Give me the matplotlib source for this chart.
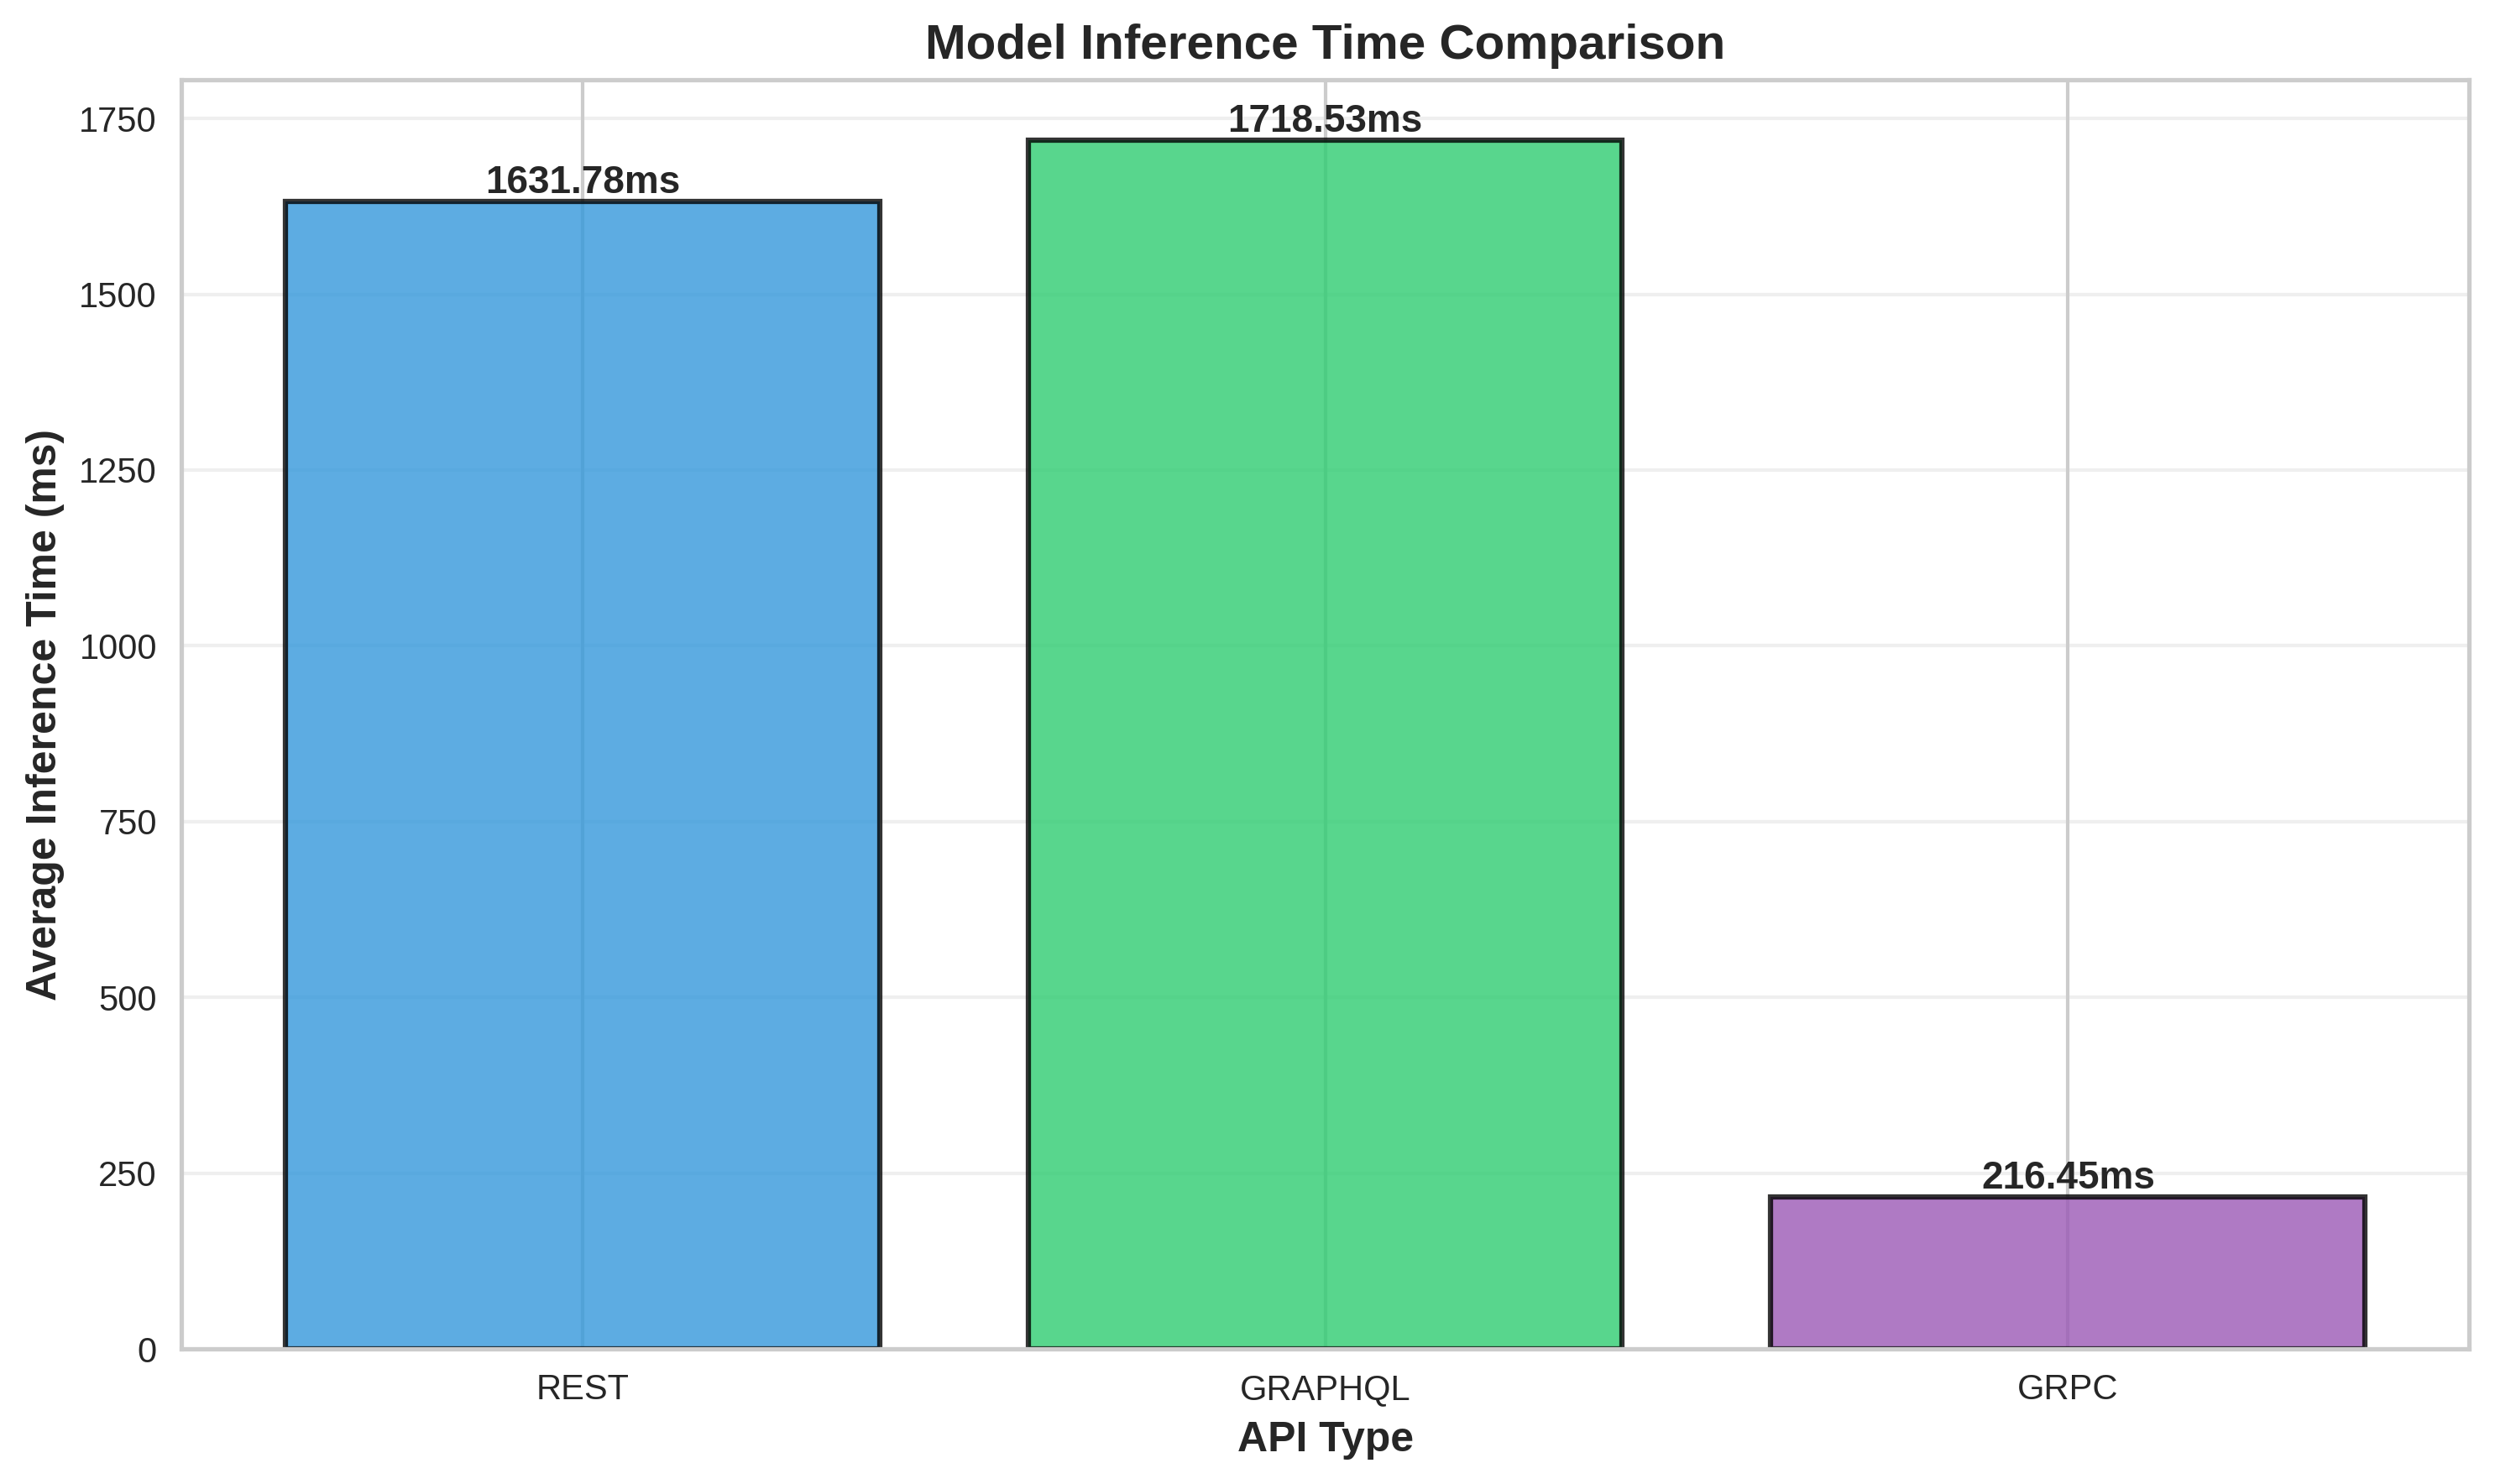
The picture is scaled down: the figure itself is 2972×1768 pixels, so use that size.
import matplotlib
matplotlib.use("Agg")
import matplotlib.pyplot as plt
import seaborn as sns

apis = ["REST", "GRAPHQL", "GRPC"]
times = [1631.78, 1718.53, 216.45]
colors = ["#3498db", "#2ecc71", "#9b59b6"]

sns.set_theme(style="whitegrid")
plt.rcParams['font.family'] = ['Liberation Sans', 'DejaVu Sans']

fig = plt.figure(figsize=(2972/300, 1768/300), dpi=300)
ax = fig.add_axes([0.0727, 0.091, 0.9169, 0.855])
bars = ax.bar(apis, times, color=colors, alpha=0.8, edgecolor='black', linewidth=1.5)
ax.set_xlabel('API Type', fontsize=12, fontweight='bold')
ax.set_ylabel('Average Inference Time (ms)', fontsize=12, fontweight='bold')
ax.set_title('Model Inference Time Comparison', fontsize=14, fontweight='bold')
ax.tick_params(labelsize=10, pad=1)
ax.grid(True, alpha=0.3, axis='y')
for b, v in zip(bars, times):
    ax.text(b.get_x() + b.get_width()/2, b.get_height(), f'{v:.2f}ms',
            ha='center', va='bottom', fontsize=11, fontweight='bold')
fig.savefig('out.png', dpi=300)
